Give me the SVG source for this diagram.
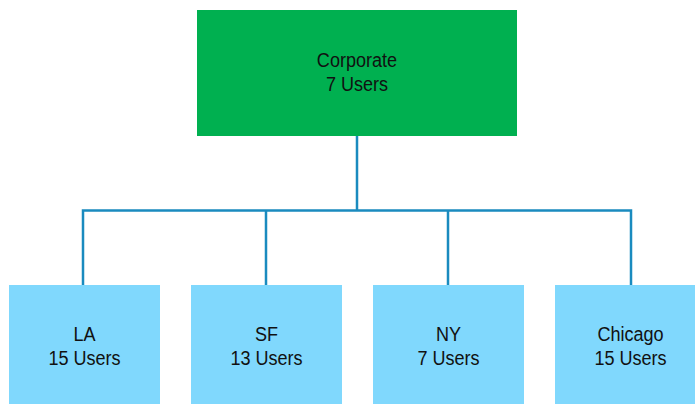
<svg xmlns="http://www.w3.org/2000/svg" width="695" height="404" viewBox="0 0 695 404">
<style>
.top{fill:#00B050}
.site{fill:#80D8FD}
.lbl{font-family:"Liberation Sans",Arial,sans-serif;font-size:21px;fill:#111;text-anchor:middle}
.conn{stroke:#1A8BBF;stroke-width:2.5;fill:none}
</style>
<rect width="695" height="404" fill="#fff"/>
<g id="connectors">
<path class="conn" d="M357 136V210.5M83 285V210.5H631V285M266 210.5V285M448 210.5V285"/>
</g>
<g id="corporate">
<rect class="top" x="197" y="10" width="320" height="126"/>
<text class="lbl" transform="translate(357 0) scale(0.86 1)"><tspan x="0" y="67">Corporate</tspan><tspan x="0" y="91">7 Users</tspan></text>
</g>
<g id="la">
<rect class="site" x="9" y="285" width="151" height="119"/>
<text class="lbl" transform="translate(84.5 0) scale(0.86 1)"><tspan x="0" y="341">LA</tspan><tspan x="0" y="365">15 Users</tspan></text>
</g>
<g id="sf">
<rect class="site" x="191" y="285" width="151" height="119"/>
<text class="lbl" transform="translate(266.5 0) scale(0.86 1)"><tspan x="0" y="341">SF</tspan><tspan x="0" y="365">13 Users</tspan></text>
</g>
<g id="ny">
<rect class="site" x="373" y="285" width="151" height="119"/>
<text class="lbl" transform="translate(448.5 0) scale(0.86 1)"><tspan x="0" y="341">NY</tspan><tspan x="0" y="365">7 Users</tspan></text>
</g>
<g id="chicago">
<rect class="site" x="555" y="285" width="151" height="119"/>
<text class="lbl" transform="translate(630.5 0) scale(0.86 1)"><tspan x="0" y="341">Chicago</tspan><tspan x="0" y="365">15 Users</tspan></text>
</g>
</svg>
